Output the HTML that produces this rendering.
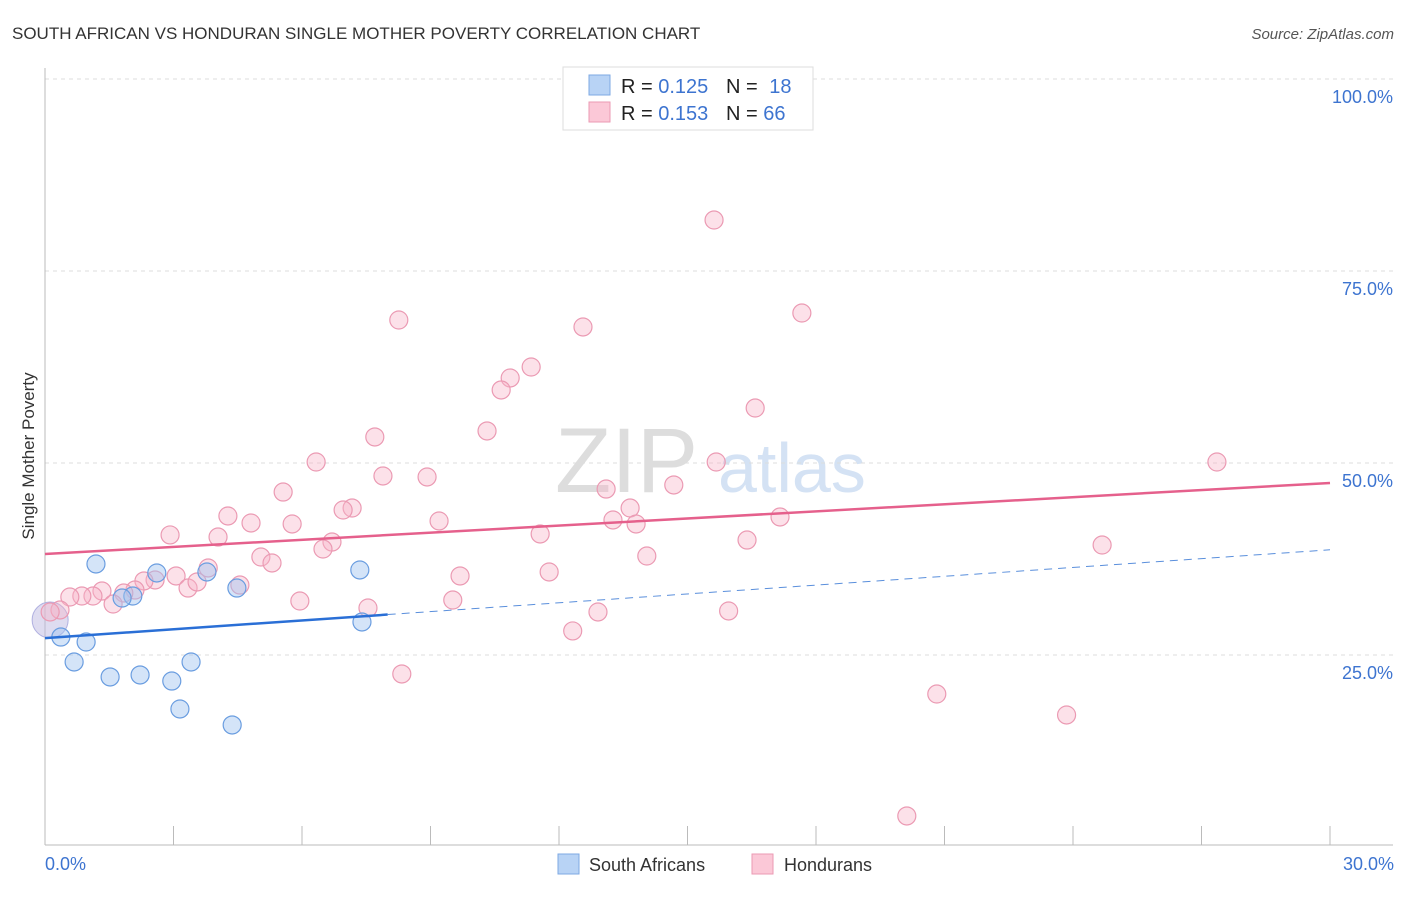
<!DOCTYPE html>
<html><head><meta charset="utf-8"><style>
body{margin:0;background:#fff;font-family:"Liberation Sans",sans-serif;}
svg text{font-family:"Liberation Sans",sans-serif;}
</style></head><body>
<svg width="1406" height="892" xmlns="http://www.w3.org/2000/svg">
<text x="12" y="39" font-size="17" fill="#333">SOUTH AFRICAN VS HONDURAN SINGLE MOTHER POVERTY CORRELATION CHART</text>
<text x="1394" y="39" font-size="15" fill="#555" text-anchor="end" font-style="italic">Source: ZipAtlas.com</text>
<text x="555" y="492" font-size="92" fill="#ddd" font-family="Liberation Serif">ZIP</text>
<text x="718" y="492" font-size="70" fill="#d4e2f4">atlas</text>
<g id="grid"></g>
<g id="axes"></g>
<g id="marks"></g>
<text transform="translate(34,456) rotate(-90)" font-size="17" fill="#333" text-anchor="middle">Single Mother Poverty</text>
<text x="45" y="870" font-size="18" fill="#3d74d0">0.0%</text>
<text x="1394" y="870" font-size="18" fill="#3d74d0" text-anchor="end">30.0%</text>
<g>
<rect x="563" y="67" width="250" height="63" fill="#fff" stroke="#ddd"/>
<rect x="589" y="75" width="21" height="20" fill="#b8d3f5" stroke="#7ea8e3"/>
<rect x="589" y="102" width="21" height="20" fill="#fbc8d7" stroke="#eb9ab3"/>
<text x="621" y="93" font-size="20" fill="#222">R = <tspan fill="#3d74d0">0.125</tspan></text>
<text x="726" y="93" font-size="20" fill="#222">N = <tspan fill="#3d74d0" dx="6">18</tspan></text>
<text x="621" y="120" font-size="20" fill="#222">R = <tspan fill="#3d74d0">0.153</tspan></text>
<text x="726" y="120" font-size="20" fill="#222">N = <tspan fill="#3d74d0">66</tspan></text>
</g>
<g>
<rect x="558" y="854" width="21" height="20" fill="#b8d3f5" stroke="#7ea8e3"/>
<text x="589" y="871" font-size="18" fill="#333">South Africans</text>
<rect x="752" y="854" width="21" height="20" fill="#fbc8d7" stroke="#eb9ab3"/>
<text x="784" y="871" font-size="18" fill="#333">Hondurans</text>
</g>
</svg>
<script>
const yTicks=[25,50,75,100];
const yTickLabels=["25.0%","50.0%","75.0%","100.0%"];
const xTicks=[0,3,6,9,12,15,18,21,24,27,30];
const blueX=[1.19,2.61,2.05,1.80,3.78,4.48,7.35,7.40,0.37,0.96,0.68,1.52,2.22,2.96,3.41,3.15,4.37];
const blueY=[36.85,35.68,32.68,32.42,35.81,33.72,36.07,29.30,27.34,26.69,24.09,22.14,22.40,21.61,24.09,17.97,15.89];
const pinkX=[15.62,17.67,8.26,12.56,11.35,10.86,10.65,7.70,10.32,16.58,6.33,15.67,27.36,7.89,8.92,5.56,14.68,13.10,7.17,6.96,13.66,4.27,4.81,5.77,9.20,13.26,13.80,17.16,2.92,4.04,11.56,6.70,6.49,24.68,16.39,5.04,5.30,14.05,3.81,9.69,11.77,3.06,4.55,2.57,3.34,3.55,2.31,2.10,1.84,1.33,1.12,0.86,0.58,1.59,0.35,0.12,5.95,9.52,7.54,12.91,15.96,12.32,8.33,20.82,23.85,20.12];
const pinkY=[81.64,69.53,68.62,67.71,62.50,61.07,59.51,53.39,54.17,57.16,50.13,50.13,50.13,48.31,48.18,46.22,47.14,46.61,44.14,43.88,44.14,43.10,42.19,42.06,42.45,42.58,42.06,42.97,40.63,40.36,40.76,39.71,38.80,39.32,39.97,37.76,36.98,37.89,36.33,35.29,35.81,35.29,34.11,34.77,33.72,34.51,34.64,33.46,33.07,33.33,32.68,32.68,32.55,31.64,30.86,30.60,32.03,32.16,31.12,30.60,30.73,28.13,22.53,19.92,17.19,4.04];
const pinkTrend=[38.15,47.40];
const blueTrend=[27.2,38.7];
const blueSolidEnd=8;
const NS="http://www.w3.org/2000/svg";
const X=v=>45+v/30*1285, Y=v=>847-v*7.68;
function mk(t,a,p){const e=document.createElementNS(NS,t);for(const k in a)e.setAttribute(k,a[k]);document.getElementById(p).appendChild(e);return e;}
yTicks.forEach((t,i)=>{
 const g=mk('line',{x1:45,x2:1393,y1:Y(t),y2:Y(t),stroke:'#ddd','stroke-dasharray':'4,4'},'grid');
 
 
 const l=mk('text',{x:1393,y:Y(t)+24,'font-size':18,fill:'#3d74d0','text-anchor':'end'},'grid');
 l.textContent=yTickLabels[i];
 
 
});
const ax=mk('line',{x1:45,x2:1393,y1:845,y2:845,stroke:'#bbb'},'axes');


const ay=mk('line',{x1:45,x2:45,y1:68,y2:845,stroke:'#bbb'},'axes');


xTicks.forEach(t=>{
 const k=mk('line',{x1:X(t),x2:X(t),y1:826,y2:845,stroke:'#bbb'},'axes');
 
 
});
const big1=mk('circle',{cx:X(0.12),cy:Y(29.56),r:18,fill:'rgba(190,185,225,0.5)',stroke:'#b0b0e0'},'marks');


pinkX.forEach((x,i)=>{
 const c=mk('circle',{cx:X(x),cy:Y(pinkY[i]),r:9,fill:'rgba(248,180,200,0.4)',stroke:'#eb9ab3','stroke-width':1.2},'marks');
 
 
});
blueX.forEach((x,i)=>{
 const c=mk('circle',{cx:X(x),cy:Y(blueY[i]),r:9,fill:'rgba(160,195,240,0.45)',stroke:'#6a9de0','stroke-width':1.2},'marks');
 
 
});
const bAt=v=>blueTrend[0]+(blueTrend[1]-blueTrend[0])*v/30;
const tp=mk('line',{x1:X(0),y1:Y(pinkTrend[0]),x2:X(30),y2:Y(pinkTrend[1]),stroke:'#e5608c','stroke-width':2.5},'marks');


const tb=mk('line',{x1:X(0),y1:Y(bAt(0)),x2:X(blueSolidEnd),y2:Y(bAt(blueSolidEnd)),stroke:'#2a6fd6','stroke-width':2.5},'marks');


const td=mk('line',{x1:X(blueSolidEnd),y1:Y(bAt(blueSolidEnd)),x2:X(30),y2:Y(bAt(30)),stroke:'#5a8fdc','stroke-width':1,'stroke-dasharray':'8,6'},'marks');


</script>
</body></html>
